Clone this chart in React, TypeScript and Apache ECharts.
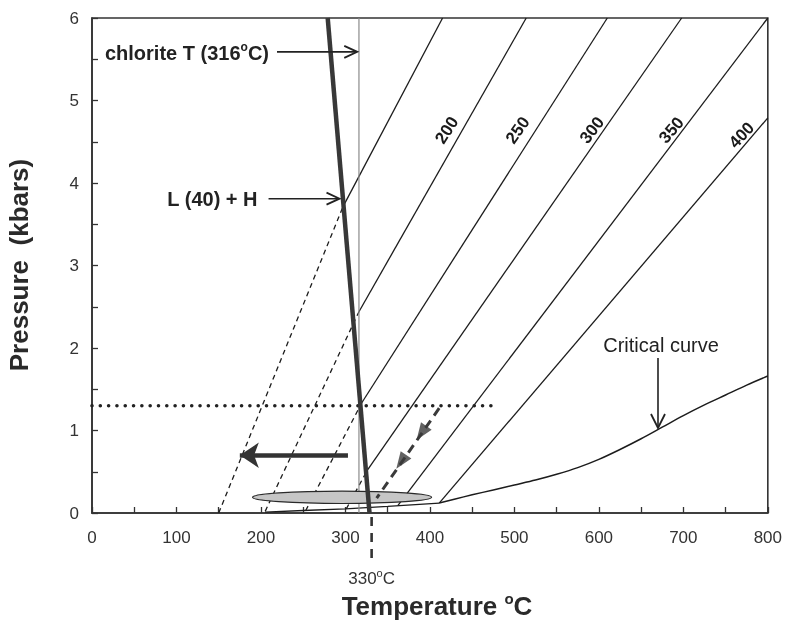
import React, { useEffect, useRef } from "react";
import * as echarts from "echarts";

// ---------- data (Temperature °C, Pressure kbar) ----------
const xRange = [0, 800];
const yRange = [0, 6];

const iso150Solid = [[297, 3.71], [415, 6]];
const iso150Dashed = [[150, 0], [297, 3.71]];
const iso200Solid = [[316, 2.44], [514, 6]];
const iso200Dashed = [[205, 0.02], [316, 2.44]];
const iso250Solid = [[319, 1.33], [610, 6]];
const iso250Dashed = [[253, 0.03], [319, 1.33]];
const iso300Solid = [[326, 0.52], [698, 6]];
const iso300Dashed = [[301, 0.05], [326, 0.52]];
const iso350Solid = [[362, 0.09], [800, 6]];
const iso400Solid = [[411, 0.12], [800, 4.79]];

const threePhaseCurve = [[205, 0.01], [250, 0.03], [300, 0.05], [350, 0.08], [411, 0.12]];
const criticalCurve = [
  [411, 0.12], [430, 0.17], [450, 0.22], [475, 0.28], [500, 0.34], [525, 0.4],
  [550, 0.47], [575, 0.55], [600, 0.65], [625, 0.77], [650, 0.9], [675, 1.04],
  [700, 1.18], [725, 1.31], [750, 1.43], [775, 1.55], [800, 1.66],
];
const haliteLiquidus = [[279, 6], [328.5, 0]]; // L (40) + H
const chloriteT = [[316, 0], [316, 6]];
const pressureLevel = [[0, 1.3], [480, 1.3]];
const coolingPath = [[303, 0.7], [175, 0.7]];
const decompressionPath = [[411, 1.27], [337, 0.18]];
const decompressionHeads = [[390, 0.97], [366, 0.62]];

const inclusionCenter = [296, 0.19];
const inclusionRadius = [106, 0.075];

const isochoreLabels = ["200", "250", "300", "350", "400"];
const isochoreLabelT = [420, 504, 592, 686, 769];
const isochoreLabelP = [4.64, 4.64, 4.64, 4.64, 4.58];
const isochoreLines = [iso200Solid, iso250Solid, iso300Solid, iso350Solid, iso400Solid];

const chloriteArrow = [[219, 5.59], [314, 5.59]];
const lhArrow = [[209, 3.81], [293, 3.81]];
const criticalArrow = [[670, 1.88], [670, 1.03]];
const tempMarker = 331;

export default function App() {
  const ref = useRef<HTMLDivElement>(null);

  useEffect(() => {
    const chart = echarts.init(ref.current!, undefined, { renderer: "svg" });
    const font = "'Liberation Sans', Arial, Helvetica, sans-serif";
    const ink = "#1c1c1c";

    const ln = (name: string, data: number[][], width: number, color: string, type: any = "solid", z = 2, extra: any = {}) => ({
      type: "line",
      name,
      data,
      showSymbol: false,
      symbol: "none",
      silent: true,
      z,
      lineStyle: { color, width, type, ...extra },
    });

    chart.setOption({
      animation: false,
      grid: {
        left: 92, top: 18, width: 677, height: 495,
        show: true, borderColor: "#333", borderWidth: 1.6, backgroundColor: "transparent",
      },
      xAxis: {
        type: "value", min: xRange[0], max: xRange[1], interval: 50,
        axisLine: { lineStyle: { color: "#333", width: 1.6 } },
        axisTick: { inside: true, length: 6, lineStyle: { color: "#333", width: 1.3 } },
        splitLine: { show: false },
        axisLabel: {
          margin: 16, fontSize: 17, color: "#333", fontFamily: font,
          formatter: (v: number) => (v % 100 === 0 ? String(v) : ""),
        },
      },
      yAxis: {
        type: "value", min: yRange[0], max: yRange[1], interval: 0.5,
        axisLine: { lineStyle: { color: "#333", width: 1.6 } },
        axisTick: { inside: true, length: 6, lineStyle: { color: "#333", width: 1.3 } },
        splitLine: { show: false },
        axisLabel: {
          margin: 13, fontSize: 17, color: "#333", fontFamily: font,
          formatter: (v: number) => (Math.abs(v - Math.round(v)) < 1e-6 ? String(Math.round(v)) : ""),
        },
      },
      series: [
        ln("iso150", iso150Solid, 1.3, ink),
        ln("iso150d", iso150Dashed, 1.3, ink, [5, 4]),
        ln("iso200", iso200Solid, 1.3, ink),
        ln("iso200d", iso200Dashed, 1.3, ink, [5, 4]),
        ln("iso250", iso250Solid, 1.3, ink),
        ln("iso250d", iso250Dashed, 1.3, ink, [5, 4]),
        ln("iso300", iso300Solid, 1.3, ink),
        ln("iso300d", iso300Dashed, 1.3, ink, [5, 4]),
        ln("iso350", iso350Solid, 1.3, ink),
        ln("iso400", iso400Solid, 1.3, ink),
        ln("threePhase", threePhaseCurve, 1.4, ink),
        { ...ln("critical", criticalCurve, 1.5, ink), smooth: 0.3 },
        ln("chloriteT", chloriteT, 1.2, "#8a8a8a"),
        ln("pressure", pressureLevel, 3.6, "#222", [0.01, 8.3], 2, { cap: "round" }),
        ln("LH", haliteLiquidus, 4.5, "#383838", "solid", 6),
        {
          type: "lines", id: "cooling", coordinateSystem: "cartesian2d", silent: true, z: 6,
          symbol: ["none", "arrow"], symbolSize: [15, 19],
          lineStyle: { color: "#333", width: 4.5, opacity: 1 },
          data: [{ coords: coolingPath }],
        },
        {
          type: "lines", id: "decomp", coordinateSystem: "cartesian2d", silent: true, z: 6,
          symbol: ["none", "none"],
          lineStyle: { color: "#3a3a3a", width: 3, opacity: 1, type: [9, 6] },
          data: [{ coords: decompressionPath }],
        },
        {
          type: "scatter", id: "decompHeads", silent: true, z: 7,
          symbol: "triangle", symbolSize: [13, 17], symbolRotate: 145,
          itemStyle: { color: "#3a3a3a" },
          data: decompressionHeads,
        },
      ],
    });

    const px = (t: number, p: number) => chart.convertToPixel({ gridIndex: 0 }, [t, p]) as number[];

    const d0 = px(decompressionPath[0][0], decompressionPath[0][1]);
    const d1 = px(decompressionPath[1][0], decompressionPath[1][1]);
    const dirAng = (Math.atan2(-(d1[1] - d0[1]), d1[0] - d0[0]) * 180) / Math.PI;
    chart.setOption({ series: [{ id: "decompHeads", symbolRotate: dirAng - 90 }] });

    const graphics: any[] = [];

    const openArrow = (a: number[][], len = 13, half = 6) => {
      const s = px(a[0][0], a[0][1]);
      const e = px(a[1][0], a[1][1]);
      const dx = e[0] - s[0], dy = e[1] - s[1];
      const L = Math.hypot(dx, dy);
      const ux = dx / L, uy = dy / L;
      const nx = -uy, ny = ux;
      graphics.push({
        type: "line", silent: true, z: 10,
        shape: { x1: s[0], y1: s[1], x2: e[0] - ux * 1, y2: e[1] - uy * 1 },
        style: { stroke: "#222", lineWidth: 1.6 },
      });
      graphics.push({
        type: "polyline", silent: true, z: 10,
        shape: {
          points: [
            [e[0] - ux * len + nx * half, e[1] - uy * len + ny * half],
            [e[0], e[1]],
            [e[0] - ux * len - nx * half, e[1] - uy * len - ny * half],
          ],
        },
        style: { stroke: "#222", lineWidth: 1.8, fill: null },
      });
      return { s, e };
    };

    const ca = openArrow(chloriteArrow);
    graphics.push({
      type: "text", silent: true, z: 10,
      x: ca.s[0] - 8, y: ca.s[1],
      style: {
        text: "{b|chlorite T (316}{s|o}{b|C)}",
        align: "right", verticalAlign: "middle",
        rich: {
          b: { fontSize: 20, fontWeight: "bold", fontFamily: font, fill: "#222", lineHeight: 22, verticalAlign: "bottom" },
          s: { fontSize: 12, fontWeight: "bold", fontFamily: font, fill: "#222", lineHeight: 22, verticalAlign: "top" },
        },
      },
    });

    const la = openArrow(lhArrow);
    graphics.push({
      type: "text", silent: true, z: 10,
      x: la.s[0] - 11, y: la.s[1],
      style: {
        text: "L (40) + H", align: "right", verticalAlign: "middle",
        font: `bold 20px ${font}`, fill: "#222",
      },
    });

    const cr = openArrow(criticalArrow, 14, 7);
    graphics.push({
      type: "text", silent: true, z: 10,
      x: cr.s[0] + 3, y: cr.s[1] - 3,
      style: {
        text: "Critical curve", align: "center", verticalAlign: "bottom",
        font: `20px ${font}`, fill: "#222",
      },
    });

    const c = px(inclusionCenter[0], inclusionCenter[1]);
    const rxp = px(inclusionCenter[0] + inclusionRadius[0], inclusionCenter[1]);
    const ryp = px(inclusionCenter[0], inclusionCenter[1] + inclusionRadius[1]);
    graphics.push({
      type: "ellipse", silent: true, z: 4,
      shape: { cx: c[0], cy: c[1], rx: rxp[0] - c[0], ry: c[1] - ryp[1] },
      style: { fill: "#c6c6c6", stroke: "#2a2a2a", lineWidth: 1.2 },
    });

    isochoreLabels.forEach((lab, i) => {
      const seg = isochoreLines[i];
      const a = px(seg[0][0], seg[0][1]);
      const b = px(seg[1][0], seg[1][1]);
      const ang = Math.atan2(-(b[1] - a[1]), b[0] - a[0]);
      const p = px(isochoreLabelT[i], isochoreLabelP[i]);
      graphics.push({
        type: "text", silent: true, z: 10,
        x: p[0], y: p[1], rotation: ang - 0.05,
        style: {
          text: lab, align: "center", verticalAlign: "middle",
          font: `bold 17px ${font}`, fill: "#1a1a1a",
        },
      });
    });

    const m = px(tempMarker, 0);
    graphics.push({
      type: "line", silent: true, z: 10,
      shape: { x1: m[0], y1: m[1] + 4, x2: m[0], y2: m[1] + 49 },
      style: { stroke: "#333", lineWidth: 2.6, lineDash: [9, 7] },
    });
    graphics.push({
      type: "text", silent: true, z: 10,
      x: m[0], y: m[1] + 64,
      style: {
        text: "{n|330}{s|o}{n|C}",
        align: "center", verticalAlign: "middle",
        rich: {
          n: { fontSize: 17, fontFamily: font, fill: "#333", lineHeight: 20, verticalAlign: "bottom" },
          s: { fontSize: 11, fontFamily: font, fill: "#333", lineHeight: 20, verticalAlign: "top" },
        },
      },
    });

    graphics.push({
      type: "text", silent: true, z: 10,
      x: 19, y: 265, rotation: Math.PI / 2,
      style: {
        text: "Pressure  (kbars)", align: "center", verticalAlign: "middle",
        font: `bold 26px ${font}`, fill: "#2a2a2a",
      },
    });
    graphics.push({
      type: "text", silent: true, z: 10,
      x: 437, y: 605,
      style: {
        text: "{b|Temperature }{s|o}{b|C}",
        align: "center", verticalAlign: "middle",
        rich: {
          b: { fontSize: 26, fontWeight: "bold", fontFamily: font, fill: "#2a2a2a", lineHeight: 28, verticalAlign: "bottom" },
          s: { fontSize: 15, fontWeight: "bold", fontFamily: font, fill: "#2a2a2a", lineHeight: 28, verticalAlign: "top" },
        },
      },
    });

    chart.setOption({ graphic: graphics });

    return () => chart.dispose();
  }, []);

  return <div ref={ref} style={{ position: "fixed", left: 0, top: 0, width: 785, height: 620 }} />;
}
